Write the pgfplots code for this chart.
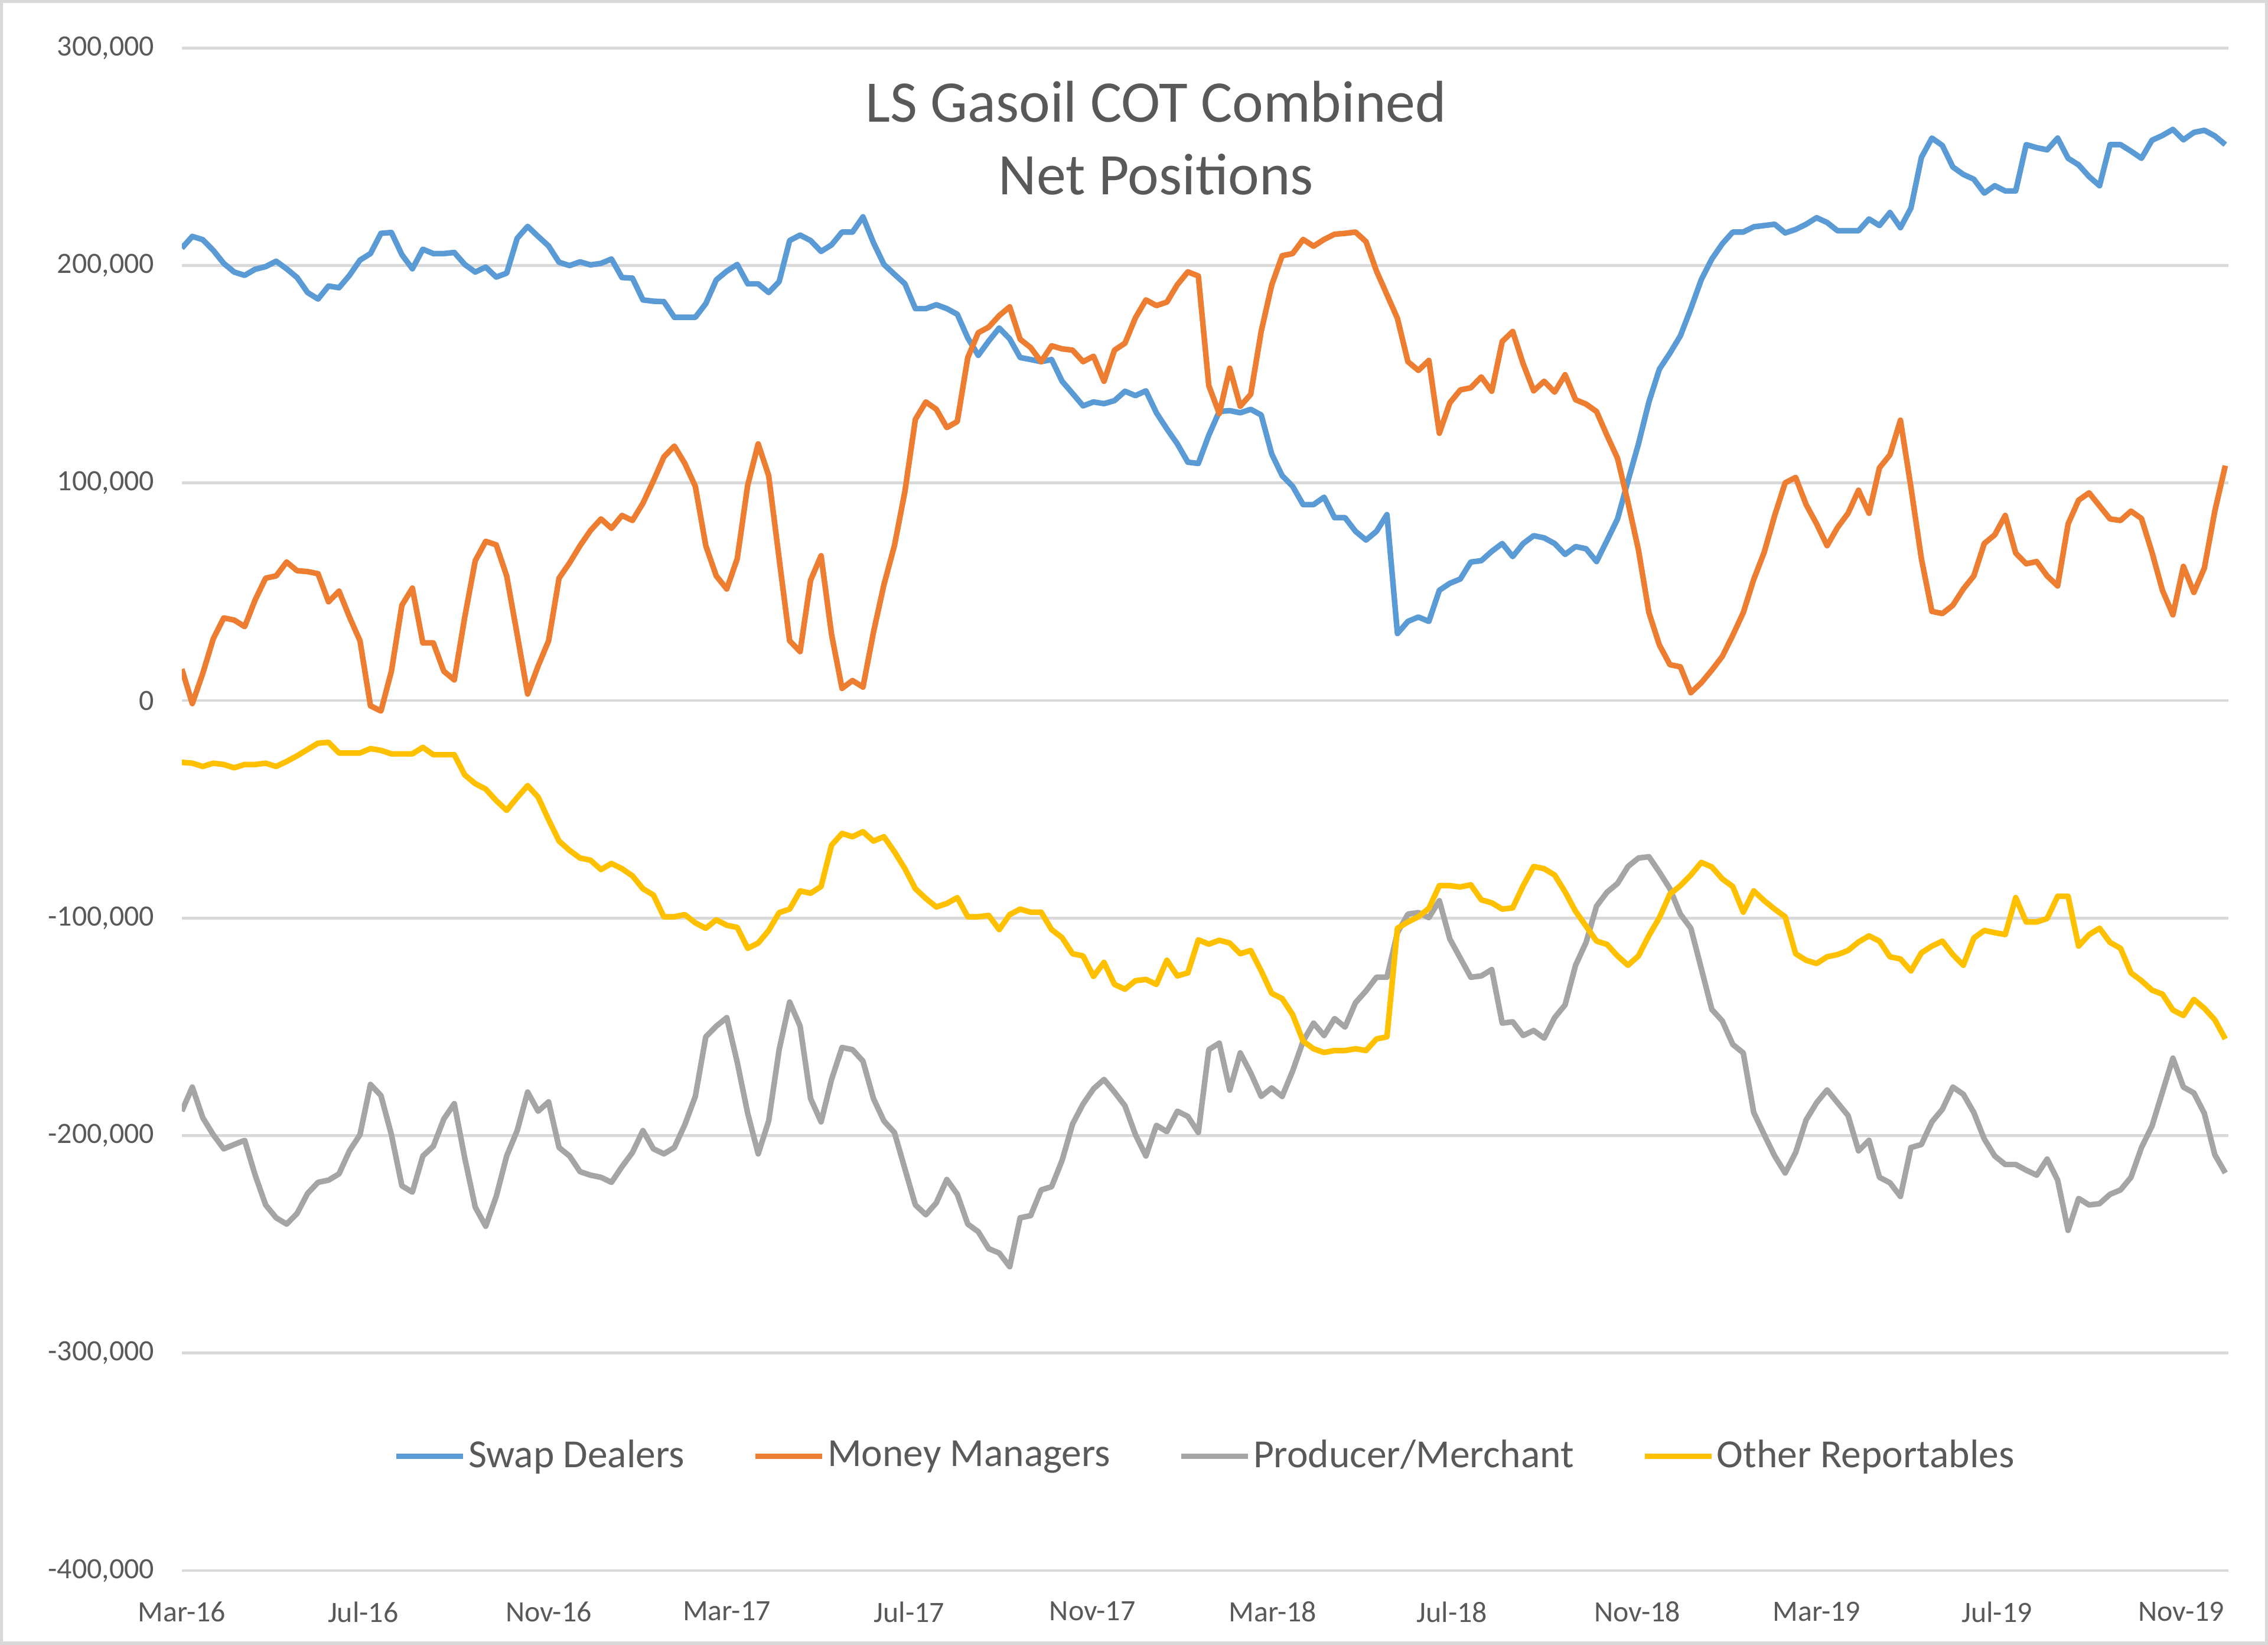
\documentclass[border=0pt]{standalone}
\usepackage{pgfplots}
\pgfplotsset{compat=1.18}
\usepackage{pgfplotstable}
\usepackage{fontspec}
\setmainfont{Carlito}
\definecolor{sdblue}{HTML}{5B9BD5}
\definecolor{mmorange}{HTML}{ED7D31}
\definecolor{pmgray}{HTML}{A5A5A5}
\definecolor{orgold}{HTML}{FFC000}
\definecolor{gridgray}{HTML}{D9D9D9}
\definecolor{txtgray}{HTML}{595959}

% values in thousands of contracts, weekly
\pgfplotstableread{
x sd mm pm or
0 208 14.5 -188.8 -28.4
1 213.4 -1.4 -177.7 -28.8
2 211.9 12.5 -191.8 -30.3
3 207 28.4 -199.6 -28.8
4 201 38 -206.1 -29.4
5 197 37 -204.1 -30.9
6 195.5 34 -202.2 -29.4
7 198.3 46.3 -218.2 -29.4
8 199.5 56.3 -231.9 -28.8
9 202 57.3 -237.8 -30.3
10 198.5 63.7 -240.7 -28
11 194.5 59.7 -235.8 -25.4
12 187.6 59.3 -226.6 -22.5
13 184.6 58.3 -221.5 -19.6
14 190.6 45.4 -220.5 -19.2
15 189.8 50.3 -217.6 -24.1
16 195.5 38.4 -207 -24.1
17 202.5 27.5 -199.6 -24.1
18 205.5 -2.4 -176.5 -22.1
19 214.8 -4.8 -181.6 -22.9
20 215.2 13.5 -199.6 -24.5
21 205 43.8 -223.1 -24.5
22 198.5 51.7 -226 -24.5
23 207.5 26.5 -209.4 -21.5
24 205.5 26.5 -204.9 -24.9
25 205.5 13.5 -192.4 -24.9
26 206 9.5 -185.3 -24.9
27 200.5 38.4 -210.4 -34.2
28 197 64.3 -232.9 -38.2
29 199.3 73.2 -241.7 -40.7
30 194.7 71.6 -228 -46
31 196.5 57.3 -209.4 -50.5
32 212.5 30.4 -197.7 -44.6
33 218 3 -180 -39.1
34 213.4 15.9 -188.8 -44.4
35 209 27.5 -184.5 -54.8
36 201.5 56.3 -205.5 -64.6
37 200 63.3 -209.4 -68.9
38 201.7 71.2 -216.6 -72.4
39 200.3 78.2 -218.2 -73.4
40 201 83.5 -219.2 -77.7
41 203 79.2 -221.5 -74.9
42 194.5 85.1 -214.3 -77.3
43 194.2 82.8 -207.8 -80.6
44 184.2 90.7 -197.7 -86.5
45 183.6 101 -206.1 -89.4
46 183.4 112 -208.4 -99.4
47 176.2 117 -205.5 -99.4
48 176.2 109 -195 -98.4
49 176.2 98.5 -182 -102.2
50 182.5 71.2 -154.6 -104.7
51 193.4 57.3 -149.7 -100.8
52 197.4 51.3 -145.8 -103.3
53 200.5 65.2 -166.3 -104.3
54 191.6 99 -189.8 -113.9
55 191.6 118 -208.4 -111.5
56 187.6 103.4 -193.3 -105.7
57 192.6 65.2 -160.5 -97.5
58 211.5 27.5 -138.6 -95.9
59 214 22.5 -149.7 -87.5
60 211.5 55.3 -183 -88.6
61 206.5 66.6 -193.7 -85.5
62 209.5 30.4 -174.2 -66.5
63 215.4 5.6 -159.5 -61.1
64 215.4 9.2 -160.5 -62.6
65 222.4 6.2 -165.8 -60.3
66 210.5 31.4 -183 -64.6
67 200.5 53.3 -193.3 -62.6
68 196 71.2 -198.6 -69.5
69 191.6 96.1 -215.3 -77.3
70 180.2 129.3 -231.9 -86.5
71 180.2 137.3 -236.4 -91
72 182 133.9 -230.9 -94.9
73 180.2 125.5 -220.2 -93.3
74 177.6 128.3 -227 -90.6
75 166.7 157.7 -240.7 -99.4
76 158.7 169.1 -244.2 -99.4
77 165.3 171.7 -252 -98.8
78 171.3 177 -254 -105.3
79 166.3 181 -260.3 -98.4
80 157.7 166.1 -237.8 -95.9
81 156.8 162.3 -236.8 -97.3
82 155.8 155.8 -225 -97.3
83 156.8 163.1 -223.5 -105.3
84 146.8 161.7 -211.4 -109
85 141.2 161.1 -194.7 -116.4
86 135.5 155.8 -185.5 -117.4
87 137.3 158.3 -178.5 -126.8
88 136.5 146.8 -174.2 -120.4
89 137.9 161.1 -180 -130.5
90 142.2 164.3 -186.3 -132.7
91 140.2 176 -199.6 -128.8
92 142.4 184.2 -209.4 -128.2
93 132.3 181.6 -195.3 -130.5
94 124.9 183.2 -198.2 -119.4
95 118 191.2 -188.8 -126.6
96 109.6 197.1 -191.2 -125.2
97 109 195.2 -198.6 -110
98 122 144.8 -160.5 -112
99 132.9 131.9 -157.5 -110.2
100 133.3 152.8 -179.1 -111.5
101 132.3 135.3 -162 -116.4
102 133.9 140.8 -171.2 -114.9
103 131.3 169.7 -182 -124.3
104 113.4 191 -178.1 -134.6
105 103.4 204.5 -182 -137
106 98.5 205.5 -170.3 -144.4
107 90.1 212 -156.6 -156.6
108 90.1 208.9 -148.3 -160.1
109 93.5 212 -154 -161.8
110 84.1 214.4 -146.2 -160.9
111 84.1 214.8 -150.1 -160.9
112 77.8 215.4 -138.9 -160.1
113 73.8 211 -133.5 -160.9
114 77.8 197.5 -127.2 -155.6
115 85.5 186.6 -127.2 -154.6
116 30.8 175.7 -106.7 -104.7
117 36.4 155.8 -98.2 -101.8
118 38.4 151.8 -97.5 -99.4
119 36.4 156.4 -99.8 -95.5
120 50.7 122.9 -92 -85.1
121 53.9 136.9 -109.6 -85.1
122 55.9 142.8 -118.4 -85.7
123 63.7 143.8 -127.2 -84.7
124 64.3 148.8 -126.6 -91.6
125 68.6 142.2 -123.7 -93
126 72.2 165.1 -148.3 -95.9
127 66.2 169.7 -147.7 -95.3
128 72.2 154.8 -154 -85.1
129 75.8 142.4 -151.7 -76.3
130 74.8 146.8 -155.2 -77.3
131 72.2 141.8 -145.8 -80.2
132 67.2 149.8 -139.9 -88
133 70.8 138.3 -121.7 -96.9
134 69.8 136.3 -111.2 -103.7
135 63.9 132.9 -94.5 -110.6
136 73.6 121.9 -88.1 -112.1
137 83.5 111.4 -84.1 -117.4
138 101 91.1 -76.3 -121.7
139 118 69.2 -72.4 -117.4
140 137.3 40.4 -71.8 -108
141 152.4 25.5 -78.9 -99.8
142 159.7 16.5 -86.5 -89
143 167.7 15.5 -98.2 -85.1
144 180.2 3.6 -104.7 -80.2
145 193.6 8.2 -123.3 -74.4
146 203 14 -142 -76.5
147 210 20.3 -147.3 -82
148 215.4 30 -158.1 -85.5
149 215.4 40.4 -162 -97.3
150 217.8 55.7 -189.4 -87.5
151 218.4 68.2 -199.6 -92
152 219 85.1 -209.4 -95.9
153 215 100.1 -217.2 -99.4
154 216.6 102.6 -207.8 -116.4
155 219 90.1 -192.8 -119.4
156 222 81.2 -184.9 -120.9
157 219.8 71.2 -179 -117.8
158 216 79.6 -184.9 -116.8
159 216 86.1 -190.8 -114.9
160 216 96.7 -207 -111
161 221.4 86.1 -202.2 -108.2
162 218.4 107 -219.2 -110.6
163 224.4 113 -221.7 -117.8
164 217.4 128.9 -228 -118.8
165 226.4 98.1 -205.5 -124.3
166 249.7 65.2 -204.1 -116
167 258.6 41 -193.7 -112.9
168 255.2 40 -187.9 -110.6
169 245.3 43.8 -177.7 -116.8
170 241.9 51.3 -181 -121.7
171 239.7 57.3 -189.4 -109.2
172 233.3 72.2 -201.6 -105.7
173 236.7 76.2 -209.4 -106.7
174 234.3 85.1 -213.3 -107.6
175 234.3 67.8 -213.3 -90.6
176 255.6 62.9 -215.9 -101.8
177 254.2 63.9 -218.2 -101.8
178 253.2 57.3 -210.8 -100.2
179 258.6 52.7 -220.5 -90
180 249.3 81.2 -243.6 -90
181 246.3 92.1 -228.9 -112.9
182 240.9 95.5 -231.9 -107.6
183 236.7 89.5 -231.3 -104.7
184 255.6 83.5 -227 -111.2
185 255.6 82.8 -225 -113.9
186 252.6 87.1 -219.2 -125.2
187 249.3 83.7 -205.5 -128.8
188 257.6 68.2 -195.7 -133.1
189 259.8 50.7 -180 -135
190 262.6 39.4 -164.4 -142.3
191 257.8 61.7 -177.7 -144.8
192 261.2 49.7 -180.4 -137.4
193 262.2 60.9 -189.8 -141.5
194 259.6 87.1 -208.8 -146.8
195 255.6 108 -217.2 -155.6
}\cotdata

\begin{document}
\begin{tikzpicture}
\begin{axis}[
  scale only axis,
  width=18.055cm, height=13.431cm,
  xmin=0, xmax=195.3,
  ymin=-400, ymax=300,
  axis line style={draw=none},
  major tick length=0pt,
  ytick={-400,-300,-200,-100,0,100,200,300},
  yticklabels={{-400,000},{-300,000},{-200,000},{-100,000},0,{100,000},{200,000},{300,000}},
  xtick={0,17.3,35.0,52.0,69.4,86.9,104.1,121.2,138.9,156.0,173.2,190.8},
  xticklabels={Mar-16,Jul-16,Nov-16,Mar-17,Jul-17,Nov-17,Mar-18,Jul-18,Nov-18,Mar-19,Jul-19,Nov-19},
  ymajorgrids,
  grid style={color=gridgray, line width=0.7pt},
  tick label style={font=\fontsize{7.4}{9}\selectfont, text=txtgray},
  yticklabel style={xshift=-0.12cm},
  xticklabel style={yshift=-0.15cm},
  legend style={at={(0.5,0.075)}, anchor=center, draw=none, fill=none,
    font=\fontsize{10}{12}\selectfont, text=txtgray,
    nodes={inner xsep=0.6pt, inner ysep=1pt},
    /tikz/every even column/.append style={column sep=0.58cm}},
  legend columns=4,
  legend image code/.code={\draw[#1] (0cm,0cm) -- (0.59cm,0cm);},
  every axis plot/.append style={line width=1.4pt, line join=round, mark=none},
]
\addplot[sdblue] table[x=x, y=sd] {\cotdata};
\addlegendentry{Swap Dealers}
\addplot[mmorange] table[x=x, y=mm] {\cotdata};
\addlegendentry{Money Managers}
\addplot[pmgray] table[x=x, y=pm] {\cotdata};
\addlegendentry{Producer/Merchant}
\addplot[orgold] table[x=x, y=or] {\cotdata};
\addlegendentry{Other Reportables}
\node[align=center, font=\fontsize{14.8}{18.3}\selectfont, text=txtgray]
  at (rel axis cs:0.476,0.941) {LS Gasoil COT Combined\\Net Positions};
\end{axis}
\draw[gridgray, line width=0.8pt]
  ([shift={(-1.59cm,-0.64cm)}]current axis.south west) rectangle
  ([shift={(0.335cm,0.41cm)}]current axis.north east);
\end{tikzpicture}
\end{document}
